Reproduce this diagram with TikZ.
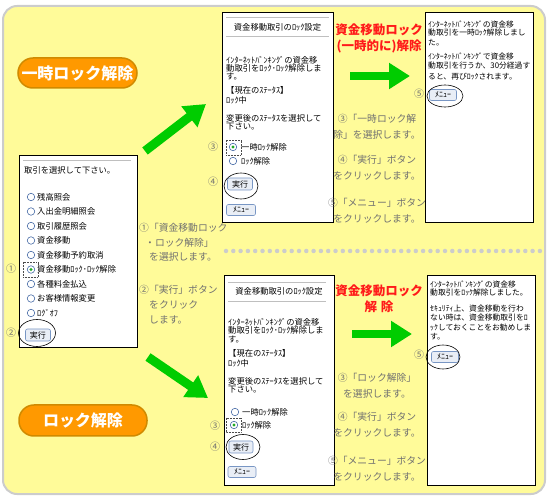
\documentclass[tikz,border=0pt]{standalone}
\usepackage{fontspec}
\setmainfont{Noto Sans CJK JP}
\usetikzlibrary{arrows.meta,shapes.geometric}

\definecolor{bgyellow}{HTML}{FFFB99}
\definecolor{framegray}{HTML}{CCCCCC}
\definecolor{pillorange}{HTML}{FF9900}
\definecolor{pillrim}{HTML}{D08A00}
\definecolor{arrowgreen}{HTML}{00CC00}
\definecolor{stepgray}{HTML}{707070}
\definecolor{titlered}{HTML}{FF1A1A}
\definecolor{radioblue}{HTML}{4A6EA8}
\definecolor{radiogreen}{HTML}{22AA22}
\definecolor{btnfill}{HTML}{E9EEF6}
\definecolor{btnrim}{HTML}{7896C4}

\tikzset{
  panel/.style={draw=black, fill=white, line width=0.8pt},
  hline/.style={draw=black!25, line width=0.8pt},
  scr/.style={anchor=west, inner sep=0pt, font=\fontsize{8.3}{8.3}\selectfont},
  scrr/.style={scr, font=\fontsize{7.8}{7.8}\selectfont},
  radio/.style={circle, draw=radioblue, fill=white, inner sep=0pt, minimum size=7.5pt, line width=0.6pt},
  focusbox/.style={draw=black!70, densely dotted, line width=0.5pt},
  btn/.style={draw=btnrim, fill=btnfill, rounded corners=2pt, inner sep=0pt, minimum width=26pt, minimum height=12pt, font=\fontsize{8}{8}\selectfont, line width=0.6pt},
  ring/.style={ellipse, draw=black, line width=0.6pt, inner sep=0pt},
  num/.style={text=stepgray, inner sep=0pt, font=\fontsize{10}{10}\selectfont},
  steptext/.style={text=stepgray, inner sep=0pt, align=center, font=\fontsize{9.8}{16}\selectfont},
  stepline/.style={steptext, anchor=west},
  redhead/.style={text=titlered, inner sep=0pt, align=center, font=\bfseries\fontsize{12.5}{16}\selectfont},
  pill/.style={fill=pillorange, draw=pillrim, line width=1.5pt, rounded corners=15pt, text=white, font=\bfseries\fontsize{16}{16}\selectfont, inner sep=0pt},
  fatarrow/.style={draw=arrowgreen, line width=9pt, -{Triangle[length=21pt,width=25pt,fill=arrowgreen]}},
}

\begin{document}
\begin{tikzpicture}[x=1pt,y=-1pt]
\useasboundingbox (0,0) rectangle (550,500);

\draw[framegray, line width=2pt, fill=bgyellow, rounded corners=14pt] (3,6) rectangle (545,494);

% menu panel
\draw[panel] (19,155) rectangle (137,347);
\draw[hline] (23,160) -- (131,160);
\node[scr] (pick) at (24,170) {取引を選択して下さい。};
\foreach \t [count=\i] in {残高照会, 入出金明細照会, 取引履歴照会, 資金移動, 資金移動予約取消, 資金移動ﾛｯｸ･ﾛｯｸ解除, 各種料金払込, お客様情報変更, ﾛｸﾞｵﾌ} {
  \node[radio] (r\i) at (31,182.5+14.5*\i) {};
  \node[scr] (item\i) at (37,182.5+14.5*\i) {\t};
}
\fill[radiogreen] (r6) circle (1.6pt);
\draw[focusbox] (23,262) rectangle (38,277);
\node[btn, minimum width=25pt] (runL) at (38,335) {実行};
\node[ring, minimum width=37pt, minimum height=27pt] (ringL) at (37,333) {};
\node[num] (n1) at (11,269) {①};
\node[num] (n2) at (11,333) {②};

\node[stepline] (s1a) at (139,228) {①「資金移動ロック};
\node[stepline] (s1b) at (145,243) {・ロック解除」};
\node[stepline] (s1c) at (149,257) {を選択します。};
\node[stepline] (s2a) at (139,290) {②「実行」ボタン};
\node[stepline] (s2b) at (149,305) {をクリック};
\node[stepline] (s2c) at (149,320) {します。};

% temporary unlock
\node[pill, minimum width=119pt, minimum height=30pt] (tempPill) at (77.5,73) {一時ロック解除};
\coordinate (upTail) at (145,151);
\coordinate (upHead) at (206,104);
\draw[fatarrow] (upTail) -- (upHead);

\draw[panel] (222,12) rectangle (333,222);
\draw[hline] (226,17) -- (329,17);
\draw[hline] (226,36) -- (329,36);
\node[scr, anchor=center] (setT) at (277.5,27) {資金移動取引のﾛｯｸ設定};
\foreach \y/\t [count=\i] in {60/ｲﾝﾀｰﾈｯﾄﾊﾞﾝｷﾝｸﾞの資金移, 68/動取引をﾛｯｸ･ﾛｯｸ解除しま, 76/す。, 90/【現在のｽﾃｰﾀｽ】, 100/ﾛｯｸ中, 118/変更後のｽﾃｰﾀｽを選択して, 127/下さい。}
  \node[scr] (setA\i) at (226,\y) {\t};
\node[radio] (tr1) at (233,147) {};
\node[radio] (tr2) at (233,161) {};
\fill[radiogreen] (tr1) circle (1.6pt);
\draw[focusbox] (226,140) rectangle (241,155);
\node[scr] (tl1) at (241,147) {一時ﾛｯｸ解除};
\node[scr] (tl2) at (241,161) {ﾛｯｸ解除};
\node[btn, minimum width=25pt] (runT) at (240,184) {実行};
\node[ring, minimum width=34pt, minimum height=26pt] (ringT) at (241,186) {};
\node[btn, minimum width=29pt, minimum height=11pt] (menuT) at (241,210) {ﾒﾆｭｰ};
\node[num] (n3) at (213,147) {③};
\node[num] (n4) at (213,182) {④};

\node[redhead] (headT) at (379,38) {資金移動ロック\\(一時的に)解除};
\coordinate (rtTail) at (350,76);
\coordinate (rtHead) at (410,76);
\draw[fatarrow, line width=8pt] (rtTail) -- (rtHead);
\node[num] (n5) at (419,94) {⑤};
\node[steptext] (stepT3) at (377,126.5) {③「一時ロック解\\除」を選択します。};
\node[steptext] (stepT4) at (377,168) {④「実行」ボタン\\をクリックします。};
\node[steptext] (stepT5) at (377,211) {⑤「メニュー」ボタン\\をクリックします。};

\draw[panel] (425,12) rectangle (533,222);
\foreach \y/\t [count=\i] in {24/ｲﾝﾀｰﾈｯﾄﾊﾞﾝｷﾝｸﾞの資金移, 33/動取引を一時ﾛｯｸ解除しまし, 43/た。, 56/ｲﾝﾀｰﾈｯﾄﾊﾞﾝｷﾝｸﾞで資金移, 66/動取引を行うか、30分経過す, 77/ると、再びﾛｯｸされます。}
  \node[scrr] (doneT\i) at (428,\y) {\t};
\node[btn, minimum width=27pt, minimum height=11pt] (menuR) at (443,95) {ﾒﾆｭｰ};
\node[ring, minimum width=36pt, minimum height=22pt] (ringR) at (445,96) {};

% separator
\coordinate (sepL) at (226,251);
\coordinate (sepR) at (540,251);
\draw[framegray, line width=4.5pt, line cap=round, dash pattern=on 0pt off 7.3pt] (sepL) -- (sepR);

% unlock
\begin{scope}[yshift=-262pt]
\node[pill, minimum width=128pt, minimum height=31pt] (lockPill) at (83,158.5) {ロック解除};
\coordinate (dnTail) at (148,95);
\coordinate (dnHead) at (208,136);
\draw[fatarrow] (dnTail) -- (dnHead);

\draw[panel] (224,13) rectangle (334,223);
\draw[hline] (228,20) -- (326,20);
\draw[hline] (228,39) -- (326,39);
\node[scr, anchor=center] (setB) at (279,29) {資金移動取引のﾛｯｸ設定};
\foreach \y/\t [count=\i] in {60/ｲﾝﾀｰﾈｯﾄﾊﾞﾝｷﾝｸﾞの資金移, 68/動取引をﾛｯｸ･ﾛｯｸ解除しま, 77/す。, 91/【現在のｽﾃｰﾀｽ】, 101/ﾛｯｸ中, 119/変更後のｽﾃｰﾀｽを選択して, 128/下さい。}
  \node[scr] (setB\i) at (228,\y) {\t};
\node[radio] (br1) at (235,150) {};
\node[radio] (br2) at (234,163) {};
\fill[radiogreen] (br2) circle (1.6pt);
\draw[focusbox] (226,156) rectangle (241,170);
\node[scr] (bl1) at (242,150) {一時ﾛｯｸ解除};
\node[scr] (bl2) at (242,163) {ﾛｯｸ解除};
\node[btn, minimum width=24pt] (runB) at (241,185) {実行};
\node[ring, minimum width=34pt, minimum height=25pt] (ringB) at (243,185) {};
\node[btn, minimum width=28pt, minimum height=11pt] (menuB) at (242,210) {ﾒﾆｭｰ};
\node[num] (n3b) at (215,164) {③};
\node[num] (n4b) at (215,185) {④};

\node[redhead] (headB) at (379,36.5) {資金移動ロック\\解\hspace{4pt}除};
\coordinate (rbTail) at (352,72);
\coordinate (rbHead) at (412,72);
\draw[fatarrow, line width=8pt] (rbTail) -- (rbHead);
\node[num] (n5b) at (419,93) {⑤};
\node[steptext] (stepB3) at (377,123.5) {③「ロック解除」\\を選択します。};
\node[steptext] (stepB4) at (377,163) {④「実行」ボタン\\をクリックします。};
\node[steptext] (stepB5) at (377,207) {⑤「メニュー」ボタン\\をクリックします。};

\draw[panel] (427,13) rectangle (535,223);
\foreach \y/\t [count=\i] in {22/ｲﾝﾀｰﾈｯﾄﾊﾞﾝｷﾝｸﾞの資金移, 31/動取引をﾛｯｸ解除しました。, 47/ｾｷｭﾘﾃｨ上、資金移動を行わ, 56/ない時は、資金移動取引をﾛ, 66/ｯｸしておくことをお勧めしま, 75/す。}
  \node[scrr] (doneB\i) at (430,\y) {\t};
\node[btn, minimum width=27pt, minimum height=11pt] (menuRB) at (445,95) {ﾒﾆｭｰ};
\node[ring, minimum width=34pt, minimum height=24pt] (ringRB) at (443,95) {};
\end{scope}

\end{tikzpicture}
\end{document}
